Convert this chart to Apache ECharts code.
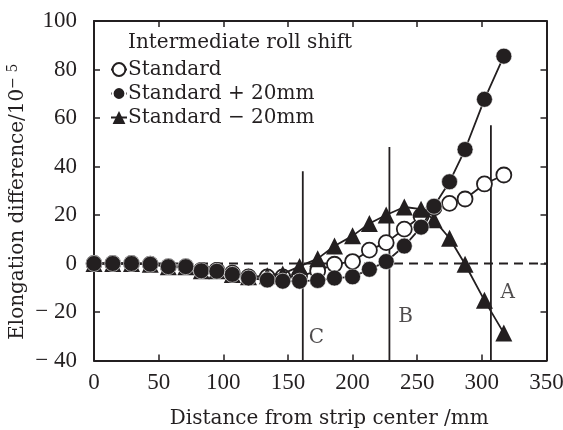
<!DOCTYPE html>
<html>
<head>
<meta charset="utf-8">
<script src="https://cdn.jsdelivr.net/npm/echarts@6/dist/echarts.min.js"></script>
<style>html,body{margin:0;padding:0;background:#fff}#c{width:563px;height:430px}</style>
</head>
<body>
<div id="c"></div>
<script>
// Distance from strip center (mm)
const distance = [0,14.5,29,43.5,57.5,71,83,95,107,119.5,134,146,159,173,186,200,213,226,240,253,263,275,287,302,317];
// Elongation difference (x10^-5)
const standard = [0,0,0,-0.3,-1.3,-1.3,-2.8,-2.8,-4,-5.5,-5.5,-5.5,-5.2,-3.1,-0.3,0.8,5.5,8.6,14.2,19.5,23,24.8,26.6,32.8,36.5];
const plus20 = [0,0,0,-0.3,-1.3,-1.3,-3,-3.2,-4.5,-6,-6.8,-7.3,-7.3,-7,-6,-5.5,-2.4,0.8,7.2,15,23.6,33.7,47,67.7,85.5];
const minus20 = [0,0,0,-0.3,-1.3,-1.3,-3,-3,-4.5,-5.5,-5,-4.3,-1.2,2,7.2,11.4,16.5,20,23.3,22.4,18,10.4,-0.3,-15.2,-28.7];
const seriesNames = ['Standard', 'Standard + 20mm', 'Standard \u2212 20mm'];
const legendTitle = 'Intermediate roll shift';
// Region boundary lines A, B, C
const zoneNames = ['C', 'B', 'A'];
const zoneX = [161.5, 228.5, 307];
const zoneTop = [38, 48, 57];
const zoneLabelX = [172, 241, 320];
const zoneLabelY = [-30.5, -22, -12];
const xTicks = [0, 50, 100, 150, 200, 250, 300, 350];
const yTicks = [-40, -20, 0, 20, 40, 60, 80, 100];

const FONT = 'Liberation Serif';
const TFONT = 'DejaVu Serif';
const INK = '#231f20';
const zip = (xs, ys) => xs.map((x, i) => [x, ys[i]]);

const frameTick = { inside: true, length: 6, lineStyle: { color: INK, width: 1.5 } };
const frameLine = { show: true, onZero: false, lineStyle: { color: INK, width: 2 } };

const chart = echarts.init(document.getElementById('c'));
const zoneSeries = zoneX.map((x, i) => ({
  type: 'line', data: [[x, yTicks[0]], [x, zoneTop[i]]], symbol: 'none',
  lineStyle: { color: INK, width: 1.8 }, silent: true, z: 1
}));
chart.setOption({
  animation: false,
  textStyle: { fontFamily: TFONT, color: INK },
  grid: { left: 94, top: 21, right: 16.5, bottom: 69.5, containLabel: false, outerBoundsMode: 'none' },
  title: {
    text: legendTitle, left: 128, top: 33, padding: 0,
    textStyle: { fontFamily: TFONT, fontSize: 20, fontWeight: 'normal', color: INK }
  },
  legend: {
    data: seriesNames, orient: 'vertical', left: 110, top: 58, padding: 0,
    itemWidth: 16, itemHeight: 16, itemGap: 1,
    textStyle: { fontFamily: TFONT, fontSize: 20, color: INK, padding: [0, 0, 0, -4], lineHeight: 23 }
  },
  xAxis: [{
    type: 'value', min: 0, max: 350, interval: 50,
    name: 'Distance from strip center /mm', nameLocation: 'middle', nameGap: 48, nameMoveOverlap: false,
    nameTextStyle: { fontFamily: TFONT, fontSize: 20, color: INK, padding: [0, 0, 0, 18] },
    axisLine: frameLine, axisTick: frameTick,
    axisLabel: { fontFamily: FONT, fontSize: 23, color: INK, margin: 11 },
    splitLine: { show: false }
  }, {
    type: 'value', position: 'top', min: 0, max: 350, interval: 50,
    axisLine: frameLine, axisTick: frameTick,
    axisLabel: { show: false }, splitLine: { show: false }
  }],
  yAxis: [{
    type: 'value', min: -40, max: 100, interval: 20,
    name: 'Elongation difference/10{sup|\u2212 5}', nameLocation: 'middle', nameGap: 64, nameRotate: 90, nameMoveOverlap: false,
    nameTextStyle: { fontFamily: TFONT, fontSize: 20, color: INK, padding: [0, 22, 0, 0],
      rich: { sup: { fontFamily: TFONT, fontSize: 14, color: INK, verticalAlign: 'top', padding: [0, 0, 10, 0] } } },
    axisLine: frameLine, axisTick: frameTick,
    axisLabel: { fontFamily: FONT, fontSize: 23, color: INK, margin: 17,
      formatter: v => v < 0 ? '\u2212 ' + Math.abs(v) : String(v) },
    splitLine: { show: false }
  }, {
    type: 'value', position: 'right', min: -40, max: 100, interval: 20,
    axisLine: frameLine, axisTick: frameTick,
    axisLabel: { show: false }, splitLine: { show: false }
  }],
  series: [
    ...zoneSeries,
    {
      type: 'line', data: [[xTicks[0], 0], [xTicks[xTicks.length - 1], 0]], symbol: 'none', silent: true, z: 1,
      lineStyle: { color: INK, width: 1.8, type: [9, 6] }
    },
    {
      type: 'scatter', silent: true, symbolSize: 0, z: 5,
      data: zoneNames.map((n, i) => ({ name: n, value: [zoneLabelX[i], zoneLabelY[i]] })),
      label: { show: true, formatter: '{b}', fontFamily: TFONT, fontSize: 20, color: INK, position: 'inside' }
    },
    {
      name: seriesNames[0], type: 'line', data: zip(distance, standard), z: 2,
      symbol: 'circle', symbolSize: 15,
      itemStyle: { color: '#fff', borderColor: INK, borderWidth: 1.8 },
      lineStyle: { color: INK, width: 1.8 }
    },
    {
      name: seriesNames[2], type: 'line', data: zip(distance, minus20), z: 3,
      symbol: 'triangle', symbolSize: 17,
      itemStyle: { color: INK },
      lineStyle: { color: INK, width: 1.8 }
    },
    {
      name: seriesNames[1], type: 'line', data: zip(distance, plus20), z: 4,
      symbol: 'circle', symbolSize: 16,
      itemStyle: { color: INK, borderColor: '#fff', borderWidth: 0.6 },
      lineStyle: { color: INK, width: 1.8 }
    }
  ]
});
</script>
</body>
</html>
